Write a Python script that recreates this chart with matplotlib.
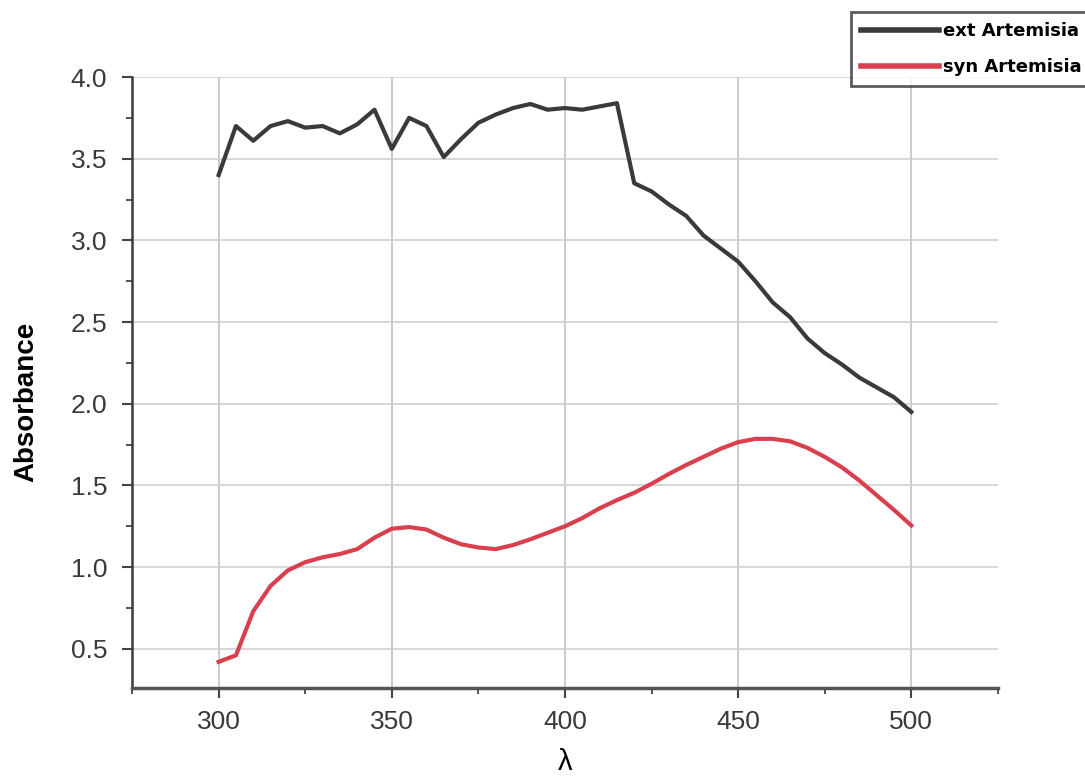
import numpy as np
import matplotlib
matplotlib.use('Agg')
import matplotlib.pyplot as plt
from matplotlib.ticker import MultipleLocator, FormatStrFormatter

plt.rcParams['font.family'] = ['Liberation Sans', 'DejaVu Sans']

# wavelength (nm)
wavelength = [300, 305, 310, 315, 320, 325, 330, 335, 340, 345,
              350, 355, 360, 365, 370, 375, 380, 385, 390, 395,
              400, 405, 410, 415, 420, 425, 430, 435, 440, 445,
              450, 455, 460, 465, 470, 475, 480, 485, 490, 495, 500]

ext_artemisia = [3.40, 3.70, 3.61, 3.70, 3.73, 3.69, 3.70, 3.655, 3.71, 3.80,
                 3.56, 3.75, 3.70, 3.51, 3.62, 3.72, 3.77, 3.81, 3.835, 3.80,
                 3.81, 3.80, 3.82, 3.84, 3.35, 3.30, 3.22, 3.15, 3.03, 2.95,
                 2.87, 2.75, 2.62, 2.53, 2.40, 2.31, 2.24, 2.16, 2.10, 2.04, 1.95]

syn_artemisia = [0.42, 0.46, 0.73, 0.885, 0.98, 1.03, 1.06, 1.08, 1.11, 1.18,
                 1.235, 1.245, 1.23, 1.18, 1.14, 1.12, 1.11, 1.135, 1.17, 1.21,
                 1.25, 1.30, 1.36, 1.41, 1.455, 1.51, 1.57, 1.625, 1.675, 1.725,
                 1.765, 1.785, 1.785, 1.77, 1.73, 1.675, 1.61, 1.53, 1.44, 1.35, 1.255]

fig = plt.figure(figsize=(10.85, 7.78), dpi=100)
ax = fig.add_axes([0.1217, 0.1157, 0.798, 0.7853])

ax.plot(wavelength, ext_artemisia, color='#3a3a3a', lw=3, label='ext Artemisia', zorder=3)
ax.plot(wavelength, syn_artemisia, color='#d8404e', lw=3, label='syn Artemisia', zorder=3)

ax.set_xlim(275, 525)
ax.set_ylim(0.26, 4.0)
ax.xaxis.set_major_locator(MultipleLocator(50))
ax.xaxis.set_minor_locator(MultipleLocator(25))
ax.yaxis.set_major_locator(MultipleLocator(0.5))
ax.yaxis.set_minor_locator(MultipleLocator(0.25))
ax.yaxis.set_major_formatter(FormatStrFormatter('%.1f'))
ax.set_xticks([300, 350, 400, 450, 500])

ax.grid(True, which='major', axis='y', color='#d0d0d0', lw=1.2, zorder=0)
ax.grid(True, which='major', axis='x', color='#bdbdbd', lw=1.1, zorder=0)
for spine in ['top', 'right']:
    ax.spines[spine].set_visible(False)
ax.spines['left'].set_color('#3a3a3a')
ax.spines['left'].set_linewidth(1.8)
ax.spines['bottom'].set_color('#555555')
ax.spines['bottom'].set_linewidth(2.5)

ax.tick_params(axis='both', which='major', direction='out', length=7, width=1.5,
               color='#444444', labelsize=19, labelcolor='#3a3a3a')
ax.tick_params(axis='y', which='major', pad=11)
ax.tick_params(axis='x', which='major', pad=9)
ax.tick_params(axis='both', which='minor', direction='out', length=4, width=1.3,
               color='#444444')

ax.set_ylabel('Absorbance', fontsize=20, fontweight='bold')
ax.yaxis.set_label_coords(-0.107, 0.468)
ax.set_xlabel('λ', fontsize=21, va='top')
ax.xaxis.set_label_coords(0.5, -0.098)

leg = fig.legend(loc='upper left', bbox_to_anchor=(851 / 1085, 1 - 12 / 778),
                 prop={'family': 'DejaVu Sans', 'weight': 'bold', 'size': 13},
                 frameon=True, fancybox=False, edgecolor='#333333',
                 handlelength=4.3, borderpad=0.55, labelspacing=1.0,
                 handletextpad=0.25, borderaxespad=0)
leg.get_frame().set_linewidth(2)
for line in leg.get_lines():
    line.set_linewidth(4)

fig.savefig('out.png', dpi=100)
